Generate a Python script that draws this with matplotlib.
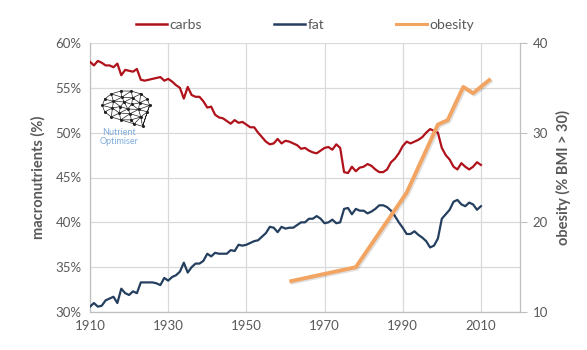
import numpy as np
import matplotlib
matplotlib.use("Agg")
import matplotlib.pyplot as plt
import matplotlib.patheffects as pe
import matplotlib.tri as mtri
from matplotlib.ticker import FuncFormatter

plt.rcParams['font.family'] = ['Lato', 'DejaVu Sans']

# yearly macronutrient share of energy (%), 1910-2010
years = list(range(1910, 2011))
carbs = [57.9, 57.5, 58.0, 57.8, 57.5, 57.5, 57.3, 57.7, 56.4, 57.0,
         56.9, 56.8, 57.1, 55.9, 55.8, 55.9, 56.0, 56.1, 56.2, 55.8,
         56.0, 55.7, 55.3, 55.0, 53.8, 55.1, 54.2, 54.0, 54.0, 53.5,
         52.8, 52.9, 52.0, 51.7, 51.6, 51.3, 51.0, 51.4, 51.1, 51.2,
         50.9, 50.6, 50.6, 50.0, 49.5, 49.0, 48.7, 48.8, 49.3, 48.8,
         49.1, 49.0, 48.8, 48.6, 48.2, 48.3, 48.0, 47.8, 47.7, 48.0,
         48.3, 48.4, 48.1, 48.7, 48.3, 45.6, 45.5, 46.2, 45.7, 46.1,
         46.2, 46.5, 46.3, 45.9, 45.6, 45.6, 45.9, 46.7, 47.1, 47.7,
         48.5, 49.0, 48.8, 49.0, 49.2, 49.5, 50.0, 50.4, 50.2, 50.0,
         48.3, 47.5, 47.0, 46.2, 45.9, 46.6, 46.2, 45.9, 46.2, 46.7,
         46.4]
fat = [30.6, 31.0, 30.6, 30.7, 31.3, 31.5, 31.7, 31.0, 32.6, 32.1,
       31.9, 32.3, 32.1, 33.3, 33.3, 33.3, 33.3, 33.2, 33.0, 33.8,
       33.5, 33.9, 34.1, 34.5, 35.5, 34.4, 35.0, 35.4, 35.4, 35.7,
       36.5, 36.2, 36.6, 36.5, 36.5, 36.5, 36.9, 36.8, 37.5, 37.4,
       37.5, 37.7, 37.9, 38.0, 38.4, 38.8, 39.5, 39.4, 38.9, 39.5,
       39.3, 39.4, 39.4, 39.7, 40.0, 40.0, 40.4, 40.4, 40.7, 40.4,
       39.9, 40.0, 40.3, 39.9, 40.0, 41.5, 41.6, 40.9, 41.5, 41.3,
       41.3, 41.0, 41.2, 41.5, 41.9, 41.9, 41.7, 41.3, 40.7, 40.0,
       39.4, 38.7, 38.7, 39.0, 38.6, 38.3, 37.9, 37.2, 37.4, 38.2,
       40.4, 40.9, 41.4, 42.3, 42.5, 42.0, 41.8, 42.2, 42.0, 41.4,
       41.8]

# obesity prevalence (% BMI > 30)
ob_years = [1961, 1978, 1991, 1999, 2001.5, 2005.5, 2008, 2012.5]
obesity = [13.4, 15.0, 23.3, 30.9, 31.4, 35.1, 34.4, 36.0]

red = '#B0121B'
navy = '#253F5F'
orange = '#F2A462'
grey = '#595959'
gridc = '#D9D9D9'

fig = plt.figure(figsize=(5.87, 3.5), dpi=100)
ax = fig.add_axes([90/587, 38/350, 430/587, 269/350])
ax2 = ax.twinx()

ax.plot(years, carbs, color=red, lw=1.6, zorder=3)
ax.plot(years, fat, color=navy, lw=1.6, zorder=3)
ax2.plot(ob_years, obesity, color=orange, lw=2.8, solid_capstyle='butt',
         path_effects=[pe.SimpleLineShadow(offset=(1, -1), alpha=0.12), pe.Normal()])

ax.set_xlim(1910, 2020)
ax.set_ylim(30, 60)
ax2.set_ylim(10, 40)
ax.set_xticks(range(1910, 2011, 20))
ax.set_yticks(range(30, 61, 5))
ax2.set_yticks([10, 20, 30, 40])
ax.yaxis.set_major_formatter(FuncFormatter(lambda v, p: f"{v:.0f}%"))

ax.grid(True, color=gridc, lw=0.9)
ax.set_axisbelow(True)
for a in (ax, ax2):
    for s in a.spines.values():
        s.set_visible(False)
ax.spines['left'].set_visible(True)
ax.spines['bottom'].set_visible(True)
ax2.spines['right'].set_visible(True)
for s in (ax.spines['left'], ax.spines['bottom'], ax2.spines['right']):
    s.set_color('#BFBFBF')
    s.set_linewidth(0.9)

ax.tick_params(axis='both', length=0, labelsize=9.5, labelcolor=grey, pad=6)
ax2.tick_params(axis='y', length=5, color='#BFBFBF', labelsize=9.5, labelcolor=grey, pad=4)

ax.set_ylabel("macronutrients (%)", fontsize=10.5, fontweight='bold', color=grey, labelpad=7)
ax2.set_ylabel("obesity (% BMI > 30)", fontsize=10.5, fontweight='bold', color=grey, labelpad=6)

handles = [plt.Line2D([], [], color=red, lw=1.8),
           plt.Line2D([], [], color=navy, lw=1.8),
           plt.Line2D([], [], color=orange, lw=2.2)]
leg = fig.legend(handles, ["carbs", "fat", "obesity"], loc='center',
                 bbox_to_anchor=(0.52, 0.929), ncol=3, frameon=False,
                 handlelength=2.2, handletextpad=0.2, columnspacing=5.2,
                 fontsize=10)
for t in leg.get_texts():
    t.set_color(grey)

# logo: wireframe brain and name
lax = fig.add_axes([100/587, (350-128)/350, 52/587, 40/350])
t = np.linspace(0, 2*np.pi, 15)[:-1]
t2 = np.linspace(0, 2*np.pi, 9)[:-1] + 0.3
px = list(np.cos(t)) + list(0.6*np.cos(t2)) + list(0.25*np.cos(t2[::2])) + [0.35, 0.7]
py = list(0.72*np.sin(t)) + list(0.42*np.sin(t2)) + list(0.18*np.sin(t2[::2])) + [-0.9, -1.02]
tri = mtri.Triangulation(px, py)
lax.triplot(tri, color='#222222', lw=0.5, marker='o', ms=1.2)
lax.set_xlim(-1.1, 1.1)
lax.set_ylim(-1.1, 0.85)
lax.axis('off')
fig.text(119/587, 1-132/350, "Nutrient", color='#7FADDD', fontsize=6.5, ha='center', va='center')
fig.text(119/587, 1-142/350, "Optimiser", color='#7FADDD', fontsize=6.5, ha='center', va='center')

fig.savefig("out.png", dpi=100, facecolor='white')
